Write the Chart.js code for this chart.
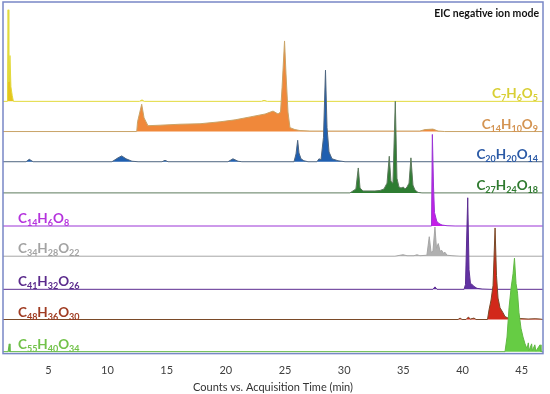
<!DOCTYPE html>
<html>
<head>
<meta charset="utf-8">
<script src="https://cdn.jsdelivr.net/npm/chart.js@4.4.1/dist/chart.umd.min.js"></script>
<style>
  html, body { margin: 0; padding: 0; background: #ffffff; }
  canvas { display: block; }
</style>
</head>
<body>
<canvas id="eicChart" width="550" height="394"></canvas>
<script>
// x axis tick labels (minutes)
const timeTicks = [5, 10, 15, 20, 25, 30, 35, 40, 45];

// one label per extracted ion chromatogram, top to bottom
const formulas = ["C7H6O5", "C14H10O9", "C20H20O14", "C27H24O18", "C14H6O8",
                  "C34H28O22", "C41H32O26", "C48H36O30", "C55H40O34"];

// each trace: [time (min), counts], counts in relative units
const c7h6o5 = [[1.17, 0], [1.55, 0], [1.6, 94], [1.66, 20], [1.76, 47], [1.84, 15],
  [1.95, 6], [2.05, 0], [12.7, 0], [12.92, 1.5], [13.1, 0], [23.0, 0], [23.23, 1], [23.5, 0], [46.8, 0]];

const c14h10o9 = [[1.17, 0], [12.47, 0], [12.54, 10], [12.89, 28], [13.09, 14], [13.42, 6],
  [14.44, 6.5], [16.13, 7.5], [17.82, 8], [19.51, 10], [20.78, 12], [22.05, 15], [23.32, 18],
  [23.99, 21], [24.41, 18], [24.62, 20], [24.75, 45], [24.96, 93], [25.08, 60], [25.25, 20],
  [25.42, 4], [25.84, 2], [26.27, 1], [27.11, 0.5], [36.4, 0.5], [36.83, 2], [37.5, 2.5],
  [37.93, 0.5], [38.5, 0], [46.8, 0]];

const c20h20o14 = [[1.17, 0], [3.12, 0], [3.39, 2.5], [3.71, 0], [10.38, 0], [10.89, 4],
  [11.2, 6], [11.57, 3], [12.07, 0.5], [12.58, 0], [14.61, 0], [14.86, 1.5], [15.11, 0],
  [20.18, 0], [20.6, 3], [21.03, 0.5], [21.36, 0], [25.76, 0], [25.93, 8], [26.07, 22],
  [26.18, 9], [26.35, 3], [26.6, 1], [26.94, 0], [27.7, 0], [27.87, 3], [28.04, 2],
  [28.25, 25], [28.42, 94], [28.55, 35], [28.72, 10], [28.97, 3], [29.48, 1], [30.07, 0], [46.8, 0]];

const c27h24o18 = [[1.17, 0], [30.49, 0], [30.99, 4], [31.19, 25.6], [31.34, 5], [31.59, 2],
  [32.6, 2], [33.03, 2.5], [33.36, 4], [33.62, 10], [33.81, 37.6], [33.95, 12], [34.12, 10],
  [34.32, 94], [34.46, 15], [34.63, 6], [34.8, 5], [35.0, 6], [35.14, 4], [35.31, 6],
  [35.48, 10], [35.64, 36], [35.81, 8], [35.98, 3], [36.24, 0.5], [36.57, 0], [46.8, 0]];

const c14h6o8 = [[1.17, 0], [37.38, 0], [37.45, 94], [37.55, 40], [37.63, 14], [37.82, 5],
  [38.01, 2.5], [38.27, 1], [38.69, 0.3], [39.37, 0], [46.8, 0]];

const c34h28o22 = [[1.17, 0], [34.29, 0], [34.97, 1.5], [35.31, 0.5], [35.9, 0.5], [36.15, 1.5],
  [36.4, 0.5], [36.99, 1], [37.19, 20], [37.34, 4], [37.5, 5], [37.67, 30], [37.8, 8],
  [37.95, 13], [38.1, 5], [38.24, 6], [38.38, 3], [38.52, 4], [38.69, 1], [39.11, 0.5],
  [39.79, 0], [46.8, 0]];

const c41h32o26 = [[1.17, 0], [37.5, 0], [37.67, 2.5], [37.84, 0], [40.13, 0], [40.25, 5],
  [40.44, 94], [40.55, 20], [40.67, 6], [40.8, 5], [40.97, 3], [41.22, 1], [41.65, 0.3],
  [42.32, 0], [46.8, 0]];

const c48h36o30 = [[1.17, 0], [39.62, 0], [39.79, 1.5], [39.96, 0], [40.3, 0], [40.49, 2.5],
  [40.67, 0.5], [40.97, 1.5], [41.14, 0], [42.11, 0], [42.24, 10], [42.41, 20], [42.58, 35],
  [42.75, 94], [42.87, 45], [43.0, 22], [43.17, 12], [43.42, 7], [43.59, 3], [43.85, 1.5],
  [44.19, 1], [44.86, 1], [45.54, 0.5], [46.13, 0.8], [46.55, 0.5], [46.8, 0]];

const c55h40o34 = [[1.17, 0], [1.6, 0], [1.7, 8], [1.76, 0], [43.59, 0], [43.76, 15],
  [43.93, 45], [44.1, 65], [44.27, 80], [44.39, 96], [44.52, 70], [44.65, 60], [44.77, 40],
  [44.94, 24], [45.11, 15], [45.28, 8], [45.45, 3], [45.56, 9], [45.62, 1], [45.84, 8],
  [45.9, 1], [46.11, 7], [46.2, 0.5], [46.55, 7], [46.63, 0], [46.8, 0]];

const traces = [c7h6o5, c14h10o9, c20h20o14, c27h24o18, c14h6o8,
                c34h28o22, c41h32o26, c48h36o30, c55h40o34];

// ---- styling / layout ----
// vertical offset of each trace baseline (y scale units ~ pixels above the bottom)
const baselineOffsets = [259, 228, 197, 165, 131, 100, 66, 35, 2];

const lineColors = ["#e2da3c", "#c9a468", "#4f6680", "#5d7a5d", "#9b35d6",
                    "#a6a6a6", "#5c2d91", "#7a4a28", "#62b845"];
const fillColors = ["#e6c41e", "#f0883a", "#1f5fb0", "#2e7d32", "#c41fe6",
                    "#b0b0b0", "#6232a3", "#d2281a", "#66cc44"];
const labelColors = ["#d8cf34", "#d49452", "#2b5aa6", "#2f7a2f", "#b533dd",
                     "#a3a3a3", "#5b2b8c", "#a03c22", "#72c24a"];

const FONT = "Lato, 'Open Sans', sans-serif";

// draws the chemical formulas with subscripted counts
const formulaLabels = {
  id: "formulaLabels",
  afterDatasetsDraw(chart) {
    const { ctx, chartArea, scales } = chart;
    ctx.save();
    ctx.textBaseline = "alphabetic";
    formulas.forEach((f, i) => {
      const parts = f.match(/[A-Z][a-z]?|\d+/g);
      const mainFont = "bold 13.5px " + FONT;
      const subFont = "bold 9px " + FONT;
      let width = 0;
      parts.forEach((p) => {
        ctx.font = /\d/.test(p) ? subFont : mainFont;
        width += ctx.measureText(p).width;
      });
      const y = scales.y.getPixelForValue(baselineOffsets[i]) - 3;
      let x = i < 4 ? chartArea.right - 5 - width : chartArea.left + 15;
      ctx.fillStyle = labelColors[i];
      parts.forEach((p) => {
        const isSub = /\d/.test(p);
        ctx.font = isSub ? subFont : mainFont;
        ctx.fillText(p, x, isSub ? y + 3 : y);
        x += ctx.measureText(p).width;
      });
    });

    // mode note in the top right corner
    ctx.font = "bold 10.5px " + FONT;
    ctx.fillStyle = "#111111";
    ctx.textAlign = "right";
    ctx.fillText("EIC negative ion mode", chartArea.right - 4, chartArea.top + 15);
    ctx.restore();
  },
};

// frame around the plot area
const plotFrame = {
  id: "plotFrame",
  afterDraw(chart) {
    const { ctx, chartArea } = chart;
    ctx.save();
    ctx.strokeStyle = "#7887c6";
    ctx.lineWidth = 1.5;
    ctx.strokeRect(chartArea.left, chartArea.top,
                   chartArea.right - chartArea.left, chartArea.bottom - chartArea.top);
    ctx.restore();
  },
};

const datasets = traces.map((trace, i) => ({
  label: formulas[i],
  data: trace.map(([t, c]) => ({ x: t, y: baselineOffsets[i] + c })),
  borderColor: lineColors[i],
  backgroundColor: fillColors[i],
  borderWidth: 1,
  pointRadius: 0,
  tension: 0,
  fill: { value: baselineOffsets[i] },
  order: traces.length - i, // lower traces drawn on top
}));

const ctx = document.getElementById("eicChart").getContext("2d");
new Chart(ctx, {
  type: "line",
  data: { datasets },
  options: {
    responsive: false,
    animation: false,
    layout: { padding: { top: 2, left: 3, right: 7, bottom: 0 } },
    plugins: {
      legend: { display: false },
      tooltip: { enabled: false },
    },
    scales: {
      x: {
        type: "linear",
        min: 1.17,
        max: 46.8,
        grid: { display: false },
        border: { display: false },
        afterBuildTicks: (axis) => {
          axis.ticks = timeTicks.map((v) => ({ value: v }));
        },
        ticks: {
          padding: 2,
          maxRotation: 0,
          color: "#404040",
          font: { family: FONT, size: 11 },
        },
        title: {
          display: true,
          text: "Counts vs. Acquisition Time (min)",
          color: "#333333",
          font: { family: FONT, size: 11 },
          padding: { top: 2, bottom: 0 },
        },
      },
      y: {
        display: false,
        min: 0,
        max: 361,
      },
    },
  },
  plugins: [formulaLabels, plotFrame],
});
</script>
</body>
</html>
